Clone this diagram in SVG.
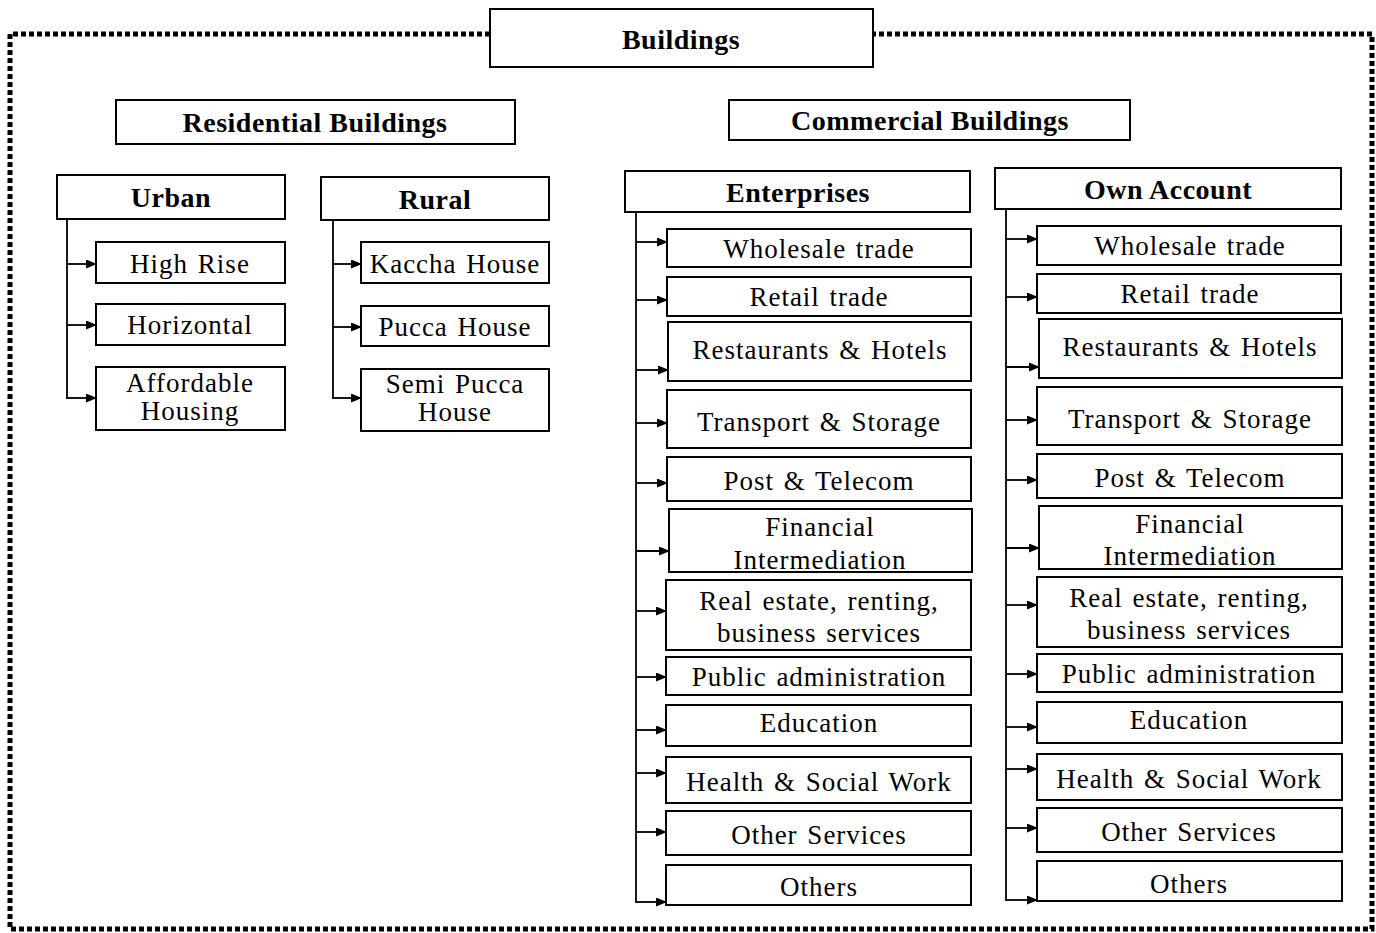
<svg xmlns="http://www.w3.org/2000/svg" width="1376" height="933" viewBox="0 0 1376 933">
<defs>
<marker id="ah" markerWidth="11" markerHeight="9" refX="10" refY="4.5" orient="auto" markerUnits="userSpaceOnUse">
<path d="M0,0 L11,4.5 L0,9 Z" fill="#000"/>
</marker>
<style>
.b{fill:#fff;stroke:#000;stroke-width:2}
.h{font-family:"Liberation Serif","Times New Roman",serif;font-weight:bold;font-size:28px;letter-spacing:0.5px;text-anchor:middle;fill:#000}
.t{font-family:"Liberation Serif","Times New Roman",serif;font-size:27px;letter-spacing:1px;word-spacing:2px;text-anchor:middle;fill:#000}
.c{fill:none;stroke:#000;stroke-width:1.8}
.a{fill:none;stroke:#000;stroke-width:1.8;marker-end:url(#ah)}
</style>
</defs>
<rect width="1376" height="933" fill="#fff"/>
<path d="M490,34 H10 V929 H1372 V34 H873" fill="none" stroke="#000" stroke-width="5" stroke-dasharray="5 3"/>

<g id="connectors">
<path class="c" d="M67,219 V399"/>
<path class="a" d="M67,264 H96"/>
<path class="a" d="M67,325 H96"/>
<path class="a" d="M67,398 H96"/>
<path class="c" d="M333,220 V399"/>
<path class="a" d="M333,264 H361"/>
<path class="a" d="M333,327 H361"/>
<path class="a" d="M333,398 H361"/>
<path class="c" d="M636,212 V903"/>
<path class="a" d="M636,242 H667"/>
<path class="a" d="M636,300 H667"/>
<path class="a" d="M636,370 H668"/>
<path class="a" d="M636,423 H667"/>
<path class="a" d="M636,483 H667"/>
<path class="a" d="M636,551 H669"/>
<path class="a" d="M636,611 H666"/>
<path class="a" d="M636,677 H666"/>
<path class="a" d="M636,730 H666"/>
<path class="a" d="M636,773 H666"/>
<path class="a" d="M636,832 H666"/>
<path class="a" d="M636,902 H666"/>
<path class="c" d="M1006,209 V901"/>
<path class="a" d="M1006,239 H1037"/>
<path class="a" d="M1006,297 H1037"/>
<path class="a" d="M1006,367 H1039"/>
<path class="a" d="M1006,420 H1037"/>
<path class="a" d="M1006,480 H1037"/>
<path class="a" d="M1006,548 H1039"/>
<path class="a" d="M1006,605 H1037"/>
<path class="a" d="M1006,674 H1037"/>
<path class="a" d="M1006,727 H1037"/>
<path class="a" d="M1006,769 H1037"/>
<path class="a" d="M1006,828 H1037"/>
<path class="a" d="M1006,900 H1037"/>
</g>

<g id="buildings"><rect class="b" x="490" y="9" width="383" height="58" stroke-width="2.5"/><text class="h" x="681" y="49" font-size="32" letter-spacing="0">Buildings</text></g>
<g id="residential"><rect class="b" x="116" y="100" width="399" height="44"/><text class="h" x="315" y="132">Residential Buildings</text></g>
<g id="commercial"><rect class="b" x="729" y="100" width="401" height="40"/><text class="h" x="930" y="130">Commercial Buildings</text></g>

<g id="urban"><rect class="b" x="57" y="175" width="228" height="44"/><text class="h" x="171" y="207">Urban</text></g>
<g id="high-rise"><rect class="b" x="96" y="242" width="189" height="41"/><text class="t" x="190" y="273">High Rise</text></g>
<g id="horizontal"><rect class="b" x="96" y="304" width="189" height="41"/><text class="t" x="190" y="334">Horizontal</text></g>
<g id="affordable"><rect class="b" x="96" y="367" width="189" height="63"/><text class="t" x="190" y="392">Affordable</text><text class="t" x="190" y="420">Housing</text></g>

<g id="rural"><rect class="b" x="321" y="177" width="228" height="43"/><text class="h" x="435" y="209">Rural</text></g>
<g id="kaccha"><rect class="b" x="361" y="242" width="188" height="41"/><text class="t" x="455" y="273">Kaccha House</text></g>
<g id="pucca"><rect class="b" x="361" y="306" width="188" height="40"/><text class="t" x="455" y="336">Pucca House</text></g>
<g id="semi-pucca"><rect class="b" x="361" y="369" width="188" height="62"/><text class="t" x="455" y="393">Semi Pucca</text><text class="t" x="455" y="421">House</text></g>

<g id="enterprises"><rect class="b" x="625" y="171" width="345" height="41"/><text class="h" x="798" y="202">Enterprises</text></g>
<g id="e-wholesale"><rect class="b" x="667" y="229" width="304" height="38"/><text class="t" x="819" y="258">Wholesale trade</text></g>
<g id="e-retail"><rect class="b" x="667" y="277" width="304" height="39"/><text class="t" x="819" y="306">Retail trade</text></g>
<g id="e-restaurants"><rect class="b" x="668" y="322" width="303" height="59"/><text class="t" x="820" y="359">Restaurants &amp; Hotels</text></g>
<g id="e-transport"><rect class="b" x="667" y="390" width="304" height="58"/><text class="t" x="819" y="431">Transport &amp; Storage</text></g>
<g id="e-post"><rect class="b" x="667" y="457" width="304" height="44"/><text class="t" x="819" y="490">Post &amp; Telecom</text></g>
<g id="e-financial"><rect class="b" x="669" y="509" width="303" height="63"/><text class="t" x="820" y="536">Financial</text><text class="t" x="820" y="569">Intermediation</text></g>
<g id="e-realestate"><rect class="b" x="666" y="580" width="305" height="70"/><text class="t" x="819" y="610">Real estate, renting,</text><text class="t" x="819" y="642">business services</text></g>
<g id="e-public"><rect class="b" x="666" y="657" width="305" height="38"/><text class="t" x="819" y="686">Public administration</text></g>
<g id="e-education"><rect class="b" x="666" y="705" width="305" height="41"/><text class="t" x="819" y="732">Education</text></g>
<g id="e-health"><rect class="b" x="666" y="757" width="305" height="46"/><text class="t" x="819" y="791">Health &amp; Social Work</text></g>
<g id="e-other-services"><rect class="b" x="666" y="811" width="305" height="44"/><text class="t" x="819" y="844">Other Services</text></g>
<g id="e-others"><rect class="b" x="666" y="865" width="305" height="40"/><text class="t" x="819" y="896">Others</text></g>

<g id="own-account"><rect class="b" x="995" y="168" width="346" height="41"/><text class="h" x="1168" y="199">Own Account</text></g>
<g id="o-wholesale"><rect class="b" x="1037" y="226" width="304" height="39"/><text class="t" x="1190" y="255">Wholesale trade</text></g>
<g id="o-retail"><rect class="b" x="1037" y="274" width="304" height="39"/><text class="t" x="1190" y="303">Retail trade</text></g>
<g id="o-restaurants"><rect class="b" x="1039" y="319" width="303" height="59"/><text class="t" x="1190" y="356">Restaurants &amp; Hotels</text></g>
<g id="o-transport"><rect class="b" x="1037" y="387" width="305" height="58"/><text class="t" x="1190" y="428">Transport &amp; Storage</text></g>
<g id="o-post"><rect class="b" x="1037" y="454" width="305" height="44"/><text class="t" x="1190" y="487">Post &amp; Telecom</text></g>
<g id="o-financial"><rect class="b" x="1039" y="506" width="303" height="63"/><text class="t" x="1190" y="533">Financial</text><text class="t" x="1190" y="565">Intermediation</text></g>
<g id="o-realestate"><rect class="b" x="1037" y="577" width="305" height="70"/><text class="t" x="1189" y="607">Real estate, renting,</text><text class="t" x="1189" y="639">business services</text></g>
<g id="o-public"><rect class="b" x="1037" y="654" width="305" height="38"/><text class="t" x="1189" y="683">Public administration</text></g>
<g id="o-education"><rect class="b" x="1037" y="702" width="305" height="41"/><text class="t" x="1189" y="729">Education</text></g>
<g id="o-health"><rect class="b" x="1037" y="754" width="305" height="46"/><text class="t" x="1189" y="788">Health &amp; Social Work</text></g>
<g id="o-other-services"><rect class="b" x="1037" y="808" width="305" height="44"/><text class="t" x="1189" y="841">Other Services</text></g>
<g id="o-others"><rect class="b" x="1037" y="861" width="305" height="40"/><text class="t" x="1189" y="893">Others</text></g>
</svg>
